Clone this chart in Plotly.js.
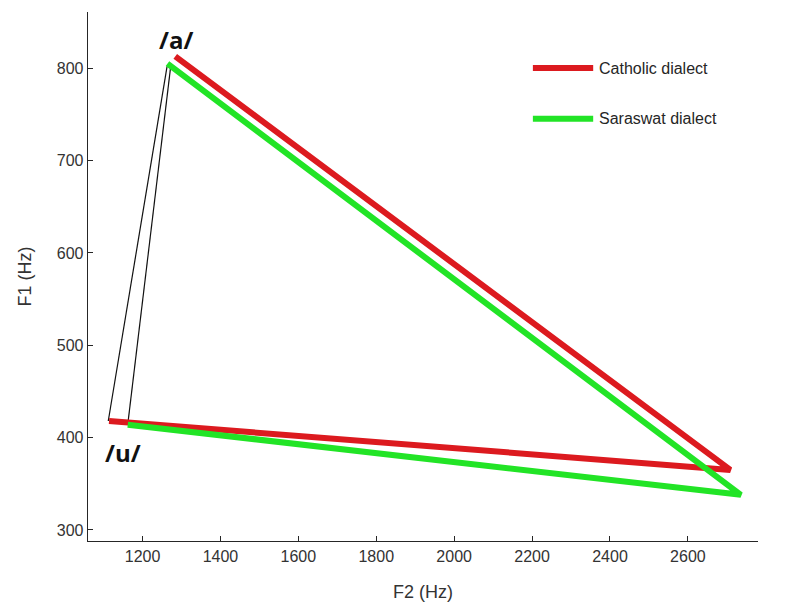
<!DOCTYPE html>
<html>
<head>
<meta charset="utf-8">
<script src="https://cdn.plot.ly/plotly-3.0.1.min.js"></script>
<style>
  html, body { margin: 0; padding: 0; background: #fff; }
  #chart { width: 788px; height: 608px; }
</style>
</head>
<body>
<div id="chart"></div>
<script>
// Vowel triangle: F2 (x) vs F1 (y), corners in the order /u/, /i/, /a/
const vowels = ['/u/', '/i/', '/a/'];
const catholicF2 = [1114, 2709, 1284];
const catholicF1 = [418, 365, 813];
const saraswatF2 = [1162, 2736, 1264];
const saraswatF1 = [414, 338, 805];

// thin /u/–/a/ edges
const edgeU_F2 = [1112, 1162];
const edgeU_F1 = [418, 414];
const edgeA_F2 = [1263, 1272];
const edgeA_F1 = [802, 801];

// vowel label positions
const labelText = ['/a/', '/u/', '/i/'];
const labelF2 = [1285, 1150, 2815];
const labelF1 = [831, 384, 346];

const seriesNames = ['Catholic dialect', 'Saraswat dialect'];
const seriesColors = ['#dc1a1f', '#22e426'];

const xTicks = [1200, 1400, 1600, 1800, 2000, 2200, 2400, 2600];
const yTicks = [300, 400, 500, 600, 700, 800];

const axisColor = '#262626';
const font = 'Liberation Sans, Arial, sans-serif';

const traces = [];
// thin black edges
for (let i = 0; i < edgeU_F2.length; i++) {
  traces.push({
    x: [edgeU_F2[i], edgeA_F2[i]],
    y: [edgeU_F1[i], edgeA_F1[i]],
    mode: 'lines',
    line: { color: '#111', width: 1.2 },
    showlegend: false,
    hoverinfo: 'skip'
  });
}
// the two dialect triangles, /u/ -> /i/ -> /a/
traces.push({
  x: catholicF2, y: catholicF1, text: vowels, name: seriesNames[0],
  mode: 'lines', line: { color: seriesColors[0], width: 6 }, showlegend: false
});
traces.push({
  x: saraswatF2, y: saraswatF1, text: vowels, name: seriesNames[1],
  mode: 'lines', line: { color: seriesColors[1], width: 6 }, showlegend: false
});

const annotations = labelText.map((t, i) => ({
  x: labelF2[i], y: labelF1[i], xref: 'x', yref: 'y',
  text: '<b>' + t + '</b>', showarrow: false,
  font: { family: 'Open Sans, Liberation Sans, sans-serif', size: 24, color: '#111' }
}));

// legend, drawn as short line samples with labels
const legendY = [0.894, 0.798];
const shapes = [];
seriesNames.forEach((n, i) => {
  shapes.push({
    type: 'line', xref: 'paper', yref: 'paper',
    x0: 0.664, x1: 0.754, y0: legendY[i], y1: legendY[i],
    line: { color: seriesColors[i], width: 6 }
  });
  annotations.push({
    xref: 'paper', yref: 'paper', x: 0.760, y: legendY[i],
    xanchor: 'left', yanchor: 'middle', text: n, showarrow: false,
    font: { family: font, size: 16, color: '#262626' }
  });
});

const layout = {
  width: 788, height: 608,
  margin: { l: 88, r: 30, t: 12, b: 67 },
  paper_bgcolor: '#fff', plot_bgcolor: '#fff',
  showlegend: false,
  xaxis: {
    range: [1060, 2780], tickvals: xTicks, ticktext: xTicks.map(String),
    showgrid: false, zeroline: false, showline: true, linecolor: axisColor, linewidth: 1.3,
    ticks: 'inside', ticklen: 5, tickcolor: axisColor, mirror: false,
    tickfont: { family: font, size: 16, color: '#333' },
    title: { text: 'F2 (Hz)', font: { family: font, size: 18, color: '#333' }, standoff: 22 }
  },
  yaxis: {
    range: [288, 861], tickvals: yTicks, ticktext: yTicks.map(String),
    showgrid: false, zeroline: false, showline: true, linecolor: axisColor, linewidth: 1.3,
    ticks: 'inside', ticklen: 5, tickcolor: axisColor, mirror: false,
    tickfont: { family: font, size: 16, color: '#333' },
    title: { text: 'F1 (Hz)', font: { family: font, size: 18, color: '#333' }, standoff: 20 }
  },
  annotations: annotations,
  shapes: shapes
};

Plotly.newPlot('chart', traces, layout, { displayModeBar: false, staticPlot: true });
</script>
</body>
</html>
